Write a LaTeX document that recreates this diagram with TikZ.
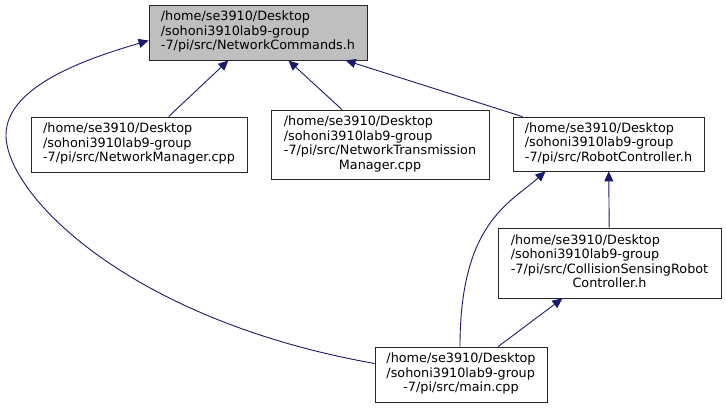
\documentclass[tikz,border=0pt]{standalone}
\usepackage{fontspec}
\setmainfont{DejaVu Sans}
\usetikzlibrary{arrows.meta}
\definecolor{edgeblue}{HTML}{191970}
\newcommand{\filetext}[1]{\begin{tabular}{@{}l@{}}#1\end{tabular}}
\newcommand{\lastrow}[1]{\multicolumn{1}{@{}c@{}}{#1}}
\begin{document}
\begin{tikzpicture}[x=1pt,y=1pt,
file/.style={draw=black!85,line width=.8pt,fill=white,inner sep=0pt,font=\fontsize{12.8}{14.5}\selectfont},
arr/.style={edgeblue,line width=.9pt,-{Triangle[length=10pt,width=9pt]}}]
\useasboundingbox (0,0) rectangle (726,408);
\node[file,fill=black!25,minimum width=218pt,minimum height=55pt](cmds) at (258,375.5){\filetext{/home/se3910/Desktop\\/sohoni3910lab9-group\\-7/pi/src/NetworkCommands.h}};
\node[file,minimum width=216pt,minimum height=55pt](manager) at (139,263.5){\filetext{/home/se3910/Desktop\\/sohoni3910lab9-group\\-7/pi/src/NetworkManager.cpp}};
\node[file,minimum width=218pt,minimum height=69pt](transmission) at (380,263.5){\filetext{/home/se3910/Desktop\\/sohoni3910lab9-group\\-7/pi/src/NetworkTransmission\\\lastrow{Manager.cpp}}};
\node[file,minimum width=191pt,minimum height=54pt](robot) at (608.5,264){\filetext{/home/se3910/Desktop\\/sohoni3910lab9-group\\-7/pi/src/RobotController.h}};
\node[file,minimum width=223pt,minimum height=70pt](collision) at (609.5,145){\filetext{/home/se3910/Desktop\\/sohoni3910lab9-group\\-7/pi/src/CollisionSensingRobot\\\lastrow{Controller.h}}};
\node[file,minimum width=172pt,minimum height=55pt](main) at (461,33.5){\filetext{/home/se3910/Desktop\\/sohoni3910lab9-group\\\lastrow{-7/pi/src/main.cpp}}};
\coordinate (leftmost) at (6,273);
% include edges
\draw[arr](manager)--(cmds);
\draw[arr](transmission)--(cmds);
\draw[arr](robot)--(cmds);
\draw[arr](collision)--(robot);
\draw[arr](main)--(collision);
\draw[arr]([xshift=-1pt]main.north) .. controls (460,185) and (510,205) .. ([xshift=-63pt]robot.south);
\draw[arr]([yshift=11pt]main.west) .. controls (129,88) and (6,213) .. (leftmost) .. controls (6,323) and (91,350.5) .. ([yshift=-8pt]cmds.west);
\end{tikzpicture}
\end{document}
